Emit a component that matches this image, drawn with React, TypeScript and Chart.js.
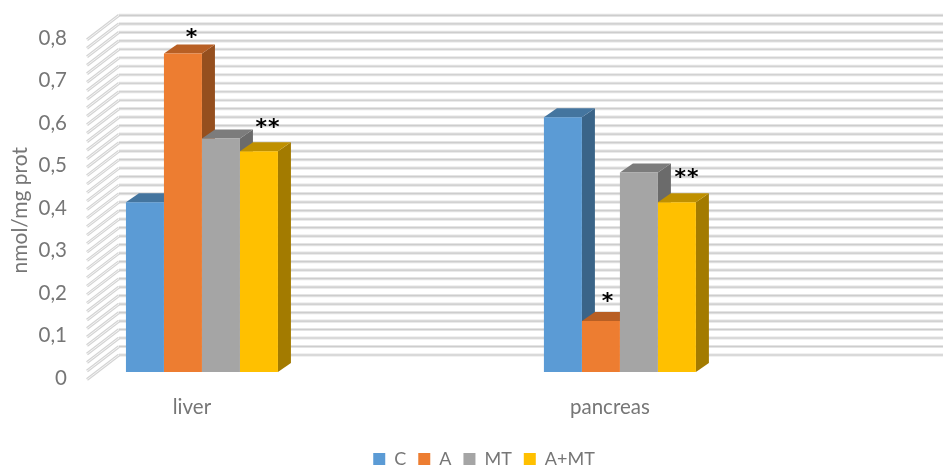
import React, { useEffect, useRef } from "react";
import { Chart, registerables } from "chart.js";

Chart.register(...registerables);

// Measured activity per organ and treatment group
const categories = ["liver", "pancreas"];
const seriesNames = ["C", "A", "MT", "A+MT"];
const valuesC = [0.4, 0.6];
const valuesA = [0.75, 0.12];
const valuesMT = [0.55, 0.47];
const valuesAMT = [0.52, 0.4];

// Significance marks: series index, category index, text, offset from the bar top
const significance = [
  { series: 1, category: 0, text: "*", dx: 9, dy: -15 },
  { series: 3, category: 0, text: "**", dx: 9, dy: -23 },
  { series: 1, category: 1, text: "*", dx: 7, dy: -19 },
  { series: 3, category: 1, text: "**", dx: 10, dy: -24 },
];

const fronts = ["#5b9bd5", "#ed7d31", "#a5a5a5", "#ffc000"];
const tops = ["#44759f", "#b85f24", "#7c7c7c", "#bf9000"];
const sides = ["#3a6488", "#954f1e", "#6b6b6b", "#a37b00"];

const FONT = "Lato";
const TEXT = "#767676";
const WALL_LEFT = 119;
const FLOOR_LEFT = 87;
const WALL_RISE = 17;
const FRONT_DROP = 7.5;
const BAR_DX = 13;
const BAR_DY = 9;
const LEGEND_SHIFT = 12.5;

// Perspective walls: slanted side wall and the back wall's horizontal rules
const wallPlugin = {
  id: "walls",
  beforeDatasetsDraw(chart: any) {
    const { ctx, scales, width } = chart;
    ctx.save();
    scales.y.ticks.forEach((tick: any) => {
      const p = scales.y.getPixelForValue(tick.value);
      ctx.beginPath();
      ctx.moveTo(WALL_LEFT, p - WALL_RISE);
      ctx.lineTo(width, p - WALL_RISE);
      ctx.strokeStyle = "#e4e4e4";
      ctx.lineWidth = 3.2;
      ctx.stroke();
      ctx.strokeStyle = "#cdcdcd";
      ctx.lineWidth = 1.2;
      ctx.stroke();
      ctx.beginPath();
      ctx.moveTo(FLOOR_LEFT, p + FRONT_DROP);
      ctx.lineTo(WALL_LEFT, p - WALL_RISE);
      ctx.strokeStyle = "#d4d4d4";
      ctx.lineWidth = 3;
      ctx.stroke();
      ctx.strokeStyle = "#f4f4f4";
      ctx.lineWidth = 1;
      ctx.stroke();
    });
    ctx.restore();
  },
};

// Top and side faces of each column; the flat front faces are painted afterwards
const extrudePlugin = {
  id: "extrude",
  afterLayout(chart: any) {
    // Centre the legend under the plot rather than the canvas
    chart.legend.left += LEGEND_SHIFT;
    chart.legend.right += LEGEND_SHIFT;
  },
  beforeDatasetsDraw(chart: any) {
    const { ctx } = chart;
    ctx.save();
    categories.forEach((_, c) => {
      seriesNames.forEach((__, s) => {
        const bar = chart.getDatasetMeta(s).data[c];
        const left = bar.x - bar.width / 2;
        const right = bar.x + bar.width / 2;
        ctx.fillStyle = sides[s];
        ctx.beginPath();
        ctx.moveTo(right, bar.y);
        ctx.lineTo(right + BAR_DX, bar.y - BAR_DY);
        ctx.lineTo(right + BAR_DX, bar.base - BAR_DY);
        ctx.lineTo(right, bar.base);
        ctx.closePath();
        ctx.fill();
        ctx.fillStyle = tops[s];
        ctx.beginPath();
        ctx.moveTo(left, bar.y);
        ctx.lineTo(left + BAR_DX, bar.y - BAR_DY);
        ctx.lineTo(right + BAR_DX, bar.y - BAR_DY);
        ctx.lineTo(right, bar.y);
        ctx.closePath();
        ctx.fill();
      });
    });
    ctx.restore();
  },
  afterDatasetsDraw(chart: any) {
    const { ctx } = chart;
    ctx.save();
    ctx.fillStyle = "#000000";
    ctx.font = "bold 22px 'DejaVu Sans'";
    (ctx as any).letterSpacing = "1px";
    ctx.textAlign = "center";
    ctx.textBaseline = "middle";
    significance.forEach((m) => {
      const bar = chart.getDatasetMeta(m.series).data[m.category];
      ctx.fillText(m.text, bar.x + m.dx, bar.y + m.dy);
    });
    ctx.restore();
  },
};

export default function App() {
  const ref = useRef<HTMLCanvasElement>(null);

  useEffect(() => {
    const allValues = [valuesC, valuesA, valuesMT, valuesAMT];
    const chart = new Chart(ref.current as HTMLCanvasElement, {
      type: "bar",
      data: {
        datasets: seriesNames.map((name, s) => ({
          label: name,
          data: allValues[s].map((y, c) => ({ x: c + 1, y })),
          backgroundColor: fronts[s],
          borderWidth: 0,
          categoryPercentage: 152 / 418,
          barPercentage: 1,
        })),
      } as any,
      options: {
        responsive: false,
        animation: false,
        events: [],
        layout: { padding: { top: 32, bottom: -12, left: 0, right: 0 } },
        plugins: {
          tooltip: { enabled: false },
          legend: {
            position: "bottom",
            labels: {
              font: { family: FONT, size: 18 },
              color: TEXT,
              boxWidth: 12,
              boxHeight: 12,
              padding: 12,
            },
          },
        },
        scales: {
          x: {
            type: "linear",
            offset: false,
            min: 0.725,
            max: 2.773,
            grid: { display: false, drawTicks: false },
            border: { display: false },
            afterFit: (scale: any) => {
              scale.height = 66;
            },
            ticks: {
              stepSize: 1,
              includeBounds: false,
              autoSkip: false,
              maxRotation: 0,
              labelOffset: -10,
              padding: 23,
              font: { family: FONT, size: 20.5 },
              color: TEXT,
              callback: (v: any) => categories[Number(v) - 1] ?? "",
            },
          },
          y: {
            min: 0,
            max: 0.8,
            grid: { display: false, drawTicks: false },
            border: { display: false },
            afterFit: (scale: any) => {
              scale.width = 87;
            },
            title: {
              display: true,
              text: "nmol/mg prot\u00a0\u00a0\u00a0",
              color: TEXT,
              font: { family: FONT, size: 21 },
              padding: { top: 8, bottom: 0 },
            },
            ticks: {
              stepSize: 0.02,
              autoSkip: false,
              padding: 20,
              labelOffset: 6,
              font: { family: FONT, size: 20.5 },
              color: TEXT,
              callback: (v: any) => {
                const hundredths = Math.round(Number(v) * 100);
                if (hundredths % 10 !== 0) return "";
                return hundredths === 0 ? "0" : (hundredths / 100).toFixed(1).replace(".", ",");
              },
            },
          },
        },
      },
      plugins: [wallPlugin, extrudePlugin],
    } as any);
    return () => chart.destroy();
  }, []);

  return (
    <canvas
      ref={ref}
      width={943}
      height={466}
      style={{ position: "fixed", left: 0, top: 0, width: 943, height: 466, display: "block" }}
    />
  );
}
